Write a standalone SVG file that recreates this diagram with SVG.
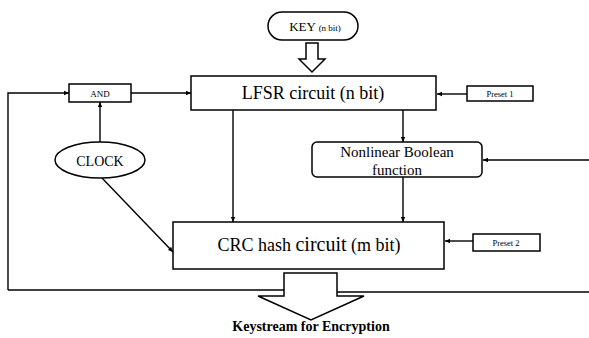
<svg xmlns="http://www.w3.org/2000/svg" width="589" height="338" viewBox="0 0 589 338">
<style>
.box{fill:#fff;stroke:#000;stroke-width:1.5}
.ln{fill:none;stroke:#000;stroke-width:1.4}
.arr{fill:none;stroke:#000;stroke-width:1.4;marker-end:url(#ah)}
text{font-family:'Liberation Serif','DejaVu Serif',serif;fill:#000;text-anchor:middle}
</style>
<defs>
<marker id="ah" markerWidth="6" markerHeight="6" refX="5" refY="3" orient="auto" markerUnits="userSpaceOnUse">
<path d="M0,0.8 L5,3 L0,5.2 Z" fill="#000"/>
</marker>
</defs>
<rect width="589" height="338" fill="#fff"/>
<g id="connectors">
<path class="arr" d="M8,290 L8,93 L69,93"/>
<path class="arr" d="M131,93 L191,93"/>
<path class="arr" d="M100,142 L100,102"/>
<path class="arr" d="M467,94 L437,94"/>
<path class="arr" d="M233,110 L233,222"/>
<path class="arr" d="M403,110 L403,142"/>
<path class="arr" d="M403,177 L403,222"/>
<path class="arr" d="M589,160 L483,160"/>
<path class="arr" d="M102,178 L173,252"/>
<path class="arr" d="M473,241 L445,241"/>
<path class="ln" d="M8,290 L284,290"/>
<path class="ln" d="M337,292 L589,292"/>
</g>
<g id="key">
<rect class="box" x="268" y="12" width="90" height="28" rx="14"/>
<text x="315" y="31" font-size="13">KEY <tspan font-size="9">(n bit)</tspan></text>
</g>
<g id="key-arrow">
<path class="box" d="M306,43 L318,43 L318,59 L325,59 L312,72 L299,59 L306,59 Z"/>
</g>
<g id="lfsr">
<rect class="box" x="191" y="76" width="245" height="34"/>
<text x="313" y="99" font-size="18">LFSR circuit (n bit)</text>
</g>
<g id="and">
<rect class="box" x="69" y="84" width="62" height="18"/>
<text x="100" y="96.5" font-size="9">AND</text>
</g>
<g id="preset1">
<rect class="box" x="467" y="86" width="66" height="15"/>
<text x="500" y="97" font-size="8.5">Preset 1</text>
</g>
<g id="clock">
<ellipse class="box" cx="100" cy="160" rx="45" ry="18"/>
<text x="100" y="165.5" font-size="14">CLOCK</text>
</g>
<g id="nonlinear">
<rect class="box" x="312" y="142" width="170" height="35" rx="5"/>
<text x="397" y="157" font-size="15">Nonlinear Boolean</text>
<text x="397" y="175" font-size="15">function</text>
</g>
<g id="crc">
<rect class="box" x="173" y="222" width="271" height="47"/>
<text x="309" y="251" font-size="18">CRC hash <tspan font-size="20">circuit</tspan> (m bit)</text>
</g>
<g id="preset2">
<rect class="box" x="473" y="234" width="67" height="17"/>
<text x="506" y="245.5" font-size="8.5">Preset 2</text>
</g>
<g id="out-arrow">
<path class="box" d="M284,273 L337,273 L337,296 L364,296 L311,320 L258,296 L284,296 Z"/>
</g>
<g id="keystream">
<text x="311" y="331" font-size="14" font-weight="bold">Keystream for Encryption</text>
</g>
</svg>
